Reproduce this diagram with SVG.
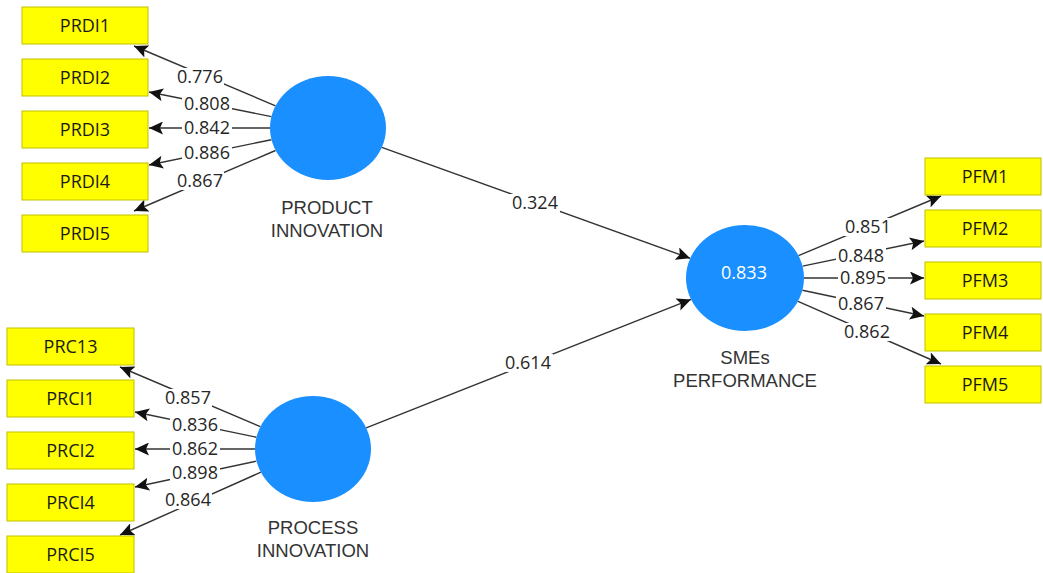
<svg xmlns="http://www.w3.org/2000/svg" width="1043" height="573" viewBox="0 0 1043 573">
<style>
.box{fill:#ffff00;stroke:#c0c000;stroke-width:1}
.bt{font-family:"Open Sans","Liberation Sans",sans-serif;font-size:18px;fill:#1a1a1a;text-anchor:middle}
.lv{fill:#1a8fff}
.lt{font-family:"Liberation Sans",Arial,sans-serif;font-size:18.5px;fill:#333;text-anchor:middle}
.ct{font-family:"Open Sans","Liberation Sans",sans-serif;font-size:18px;fill:#ffffff;text-anchor:middle}
.ln{stroke:#333;stroke-width:1.4;fill:none;marker-end:url(#ah)}
.lb{fill:#fff}
.nt{font-family:"Open Sans","Liberation Sans",sans-serif;font-size:18px;fill:#262626;text-anchor:middle}
</style>
<defs>
<marker id="ah" markerWidth="15" markerHeight="13" refX="14" refY="6.5" orient="auto" markerUnits="userSpaceOnUse">
<path d="M0,0 L14,6.5 L0,13 L3,6.5 z" fill="#111"/>
</marker>
</defs>
<rect width="1043" height="573" fill="#ffffff"/>

<g id="connectors">
<line class="ln" x1="275.5" y1="105.8" x2="134" y2="46"/>
<line class="ln" x1="271.4" y1="116.6" x2="149" y2="92"/>
<line class="ln" x1="270" y1="128" x2="149" y2="128"/>
<line class="ln" x1="271.4" y1="139.7" x2="149" y2="165"/>
<line class="ln" x1="275.5" y1="150.5" x2="134" y2="211"/>

<line class="ln" x1="260.4" y1="426.7" x2="120" y2="367"/>
<line class="ln" x1="256.4" y1="437.2" x2="135" y2="412"/>
<line class="ln" x1="255" y1="449" x2="135" y2="449"/>
<line class="ln" x1="256.4" y1="461.1" x2="135" y2="487"/>
<line class="ln" x1="260.9" y1="472.2" x2="120" y2="535"/>

<line class="ln" x1="798.5" y1="255.6" x2="941" y2="196"/>
<line class="ln" x1="802.5" y1="266.1" x2="924" y2="241"/>
<line class="ln" x1="804" y1="278" x2="924" y2="278"/>
<line class="ln" x1="802.4" y1="290.2" x2="924" y2="316"/>
<line class="ln" x1="798" y1="301.3" x2="941" y2="364"/>

<line class="ln" x1="381.8" y1="147.4" x2="690.2" y2="258.3"/>
<line class="ln" x1="366.2" y1="427.9" x2="691" y2="299.4"/>

<g id="edge-labels">
<rect class="lb" x="176" y="68" width="48" height="18"/><text class="nt" x="200" y="83">0.776</text>
<rect class="lb" x="182" y="95" width="50" height="18"/><text class="nt" x="207" y="110">0.808</text>
<rect class="lb" x="182" y="119" width="50" height="18"/><text class="nt" x="207" y="134">0.842</text>
<rect class="lb" x="182" y="144" width="50" height="18"/><text class="nt" x="207" y="159">0.886</text>
<rect class="lb" x="176" y="172" width="48" height="18"/><text class="nt" x="200" y="187">0.867</text>

<rect class="lb" x="164" y="389" width="48" height="18"/><text class="nt" x="188" y="404">0.857</text>
<rect class="lb" x="170" y="416" width="50" height="18"/><text class="nt" x="195" y="431">0.836</text>
<rect class="lb" x="170" y="440" width="50" height="18"/><text class="nt" x="195" y="455">0.862</text>
<rect class="lb" x="170" y="464" width="50" height="18"/><text class="nt" x="195" y="479">0.898</text>
<rect class="lb" x="164" y="491" width="48" height="18"/><text class="nt" x="188" y="506">0.864</text>

<rect class="lb" x="844" y="218" width="48" height="18"/><text class="nt" x="868" y="233">0.851</text>
<rect class="lb" x="836" y="247" width="50" height="18"/><text class="nt" x="861" y="262">0.848</text>
<rect class="lb" x="838" y="269" width="50" height="18"/><text class="nt" x="863" y="284">0.895</text>
<rect class="lb" x="836" y="295" width="50" height="18"/><text class="nt" x="861" y="310">0.867</text>
<rect class="lb" x="843" y="323" width="48" height="18"/><text class="nt" x="867" y="338">0.862</text>

<rect class="lb" x="510" y="194" width="50" height="18"/><text class="nt" x="535" y="209">0.324</text>
<rect class="lb" x="503" y="354" width="50" height="18"/><text class="nt" x="528" y="369">0.614</text>
</g>
</g>

<g id="PRDI1"><rect class="box" x="22" y="7" width="126" height="37"/><text class="bt" x="85" y="32">PRDI1</text></g>
<g id="PRDI2"><rect class="box" x="22" y="59" width="126" height="37"/><text class="bt" x="85" y="84">PRDI2</text></g>
<g id="PRDI3"><rect class="box" x="22" y="111" width="126" height="37"/><text class="bt" x="85" y="136">PRDI3</text></g>
<g id="PRDI4"><rect class="box" x="22" y="163" width="126" height="37"/><text class="bt" x="85" y="188">PRDI4</text></g>
<g id="PRDI5"><rect class="box" x="22" y="215" width="126" height="37"/><text class="bt" x="85" y="240">PRDI5</text></g>

<g id="PRC13"><rect class="box" x="7" y="328" width="127" height="37"/><text class="bt" x="70.5" y="353">PRC13</text></g>
<g id="PRCI1"><rect class="box" x="7" y="380" width="127" height="37"/><text class="bt" x="70.5" y="405">PRCI1</text></g>
<g id="PRCI2"><rect class="box" x="7" y="432" width="127" height="37"/><text class="bt" x="70.5" y="457">PRCI2</text></g>
<g id="PRCI4"><rect class="box" x="7" y="484" width="127" height="37"/><text class="bt" x="70.5" y="509">PRCI4</text></g>
<g id="PRCI5"><rect class="box" x="7" y="536" width="127" height="37"/><text class="bt" x="70.5" y="561">PRCI5</text></g>

<g id="PFM1"><rect class="box" x="925" y="158" width="116" height="37"/><text class="bt" x="985" y="183">PFM1</text></g>
<g id="PFM2"><rect class="box" x="925" y="210" width="116" height="37"/><text class="bt" x="985" y="235">PFM2</text></g>
<g id="PFM3"><rect class="box" x="925" y="262" width="116" height="37"/><text class="bt" x="985" y="287">PFM3</text></g>
<g id="PFM4"><rect class="box" x="925" y="314" width="116" height="37"/><text class="bt" x="985" y="339">PFM4</text></g>
<g id="PFM5"><rect class="box" x="925" y="366" width="116" height="37"/><text class="bt" x="985" y="391">PFM5</text></g>

<g id="PRODUCT_INNOVATION">
<ellipse class="lv" cx="328" cy="128" rx="58" ry="52"/>
<text class="lt" x="327" y="214">PRODUCT</text>
<text class="lt" x="327" y="237">INNOVATION</text>
</g>
<g id="PROCESS_INNOVATION">
<ellipse class="lv" cx="313" cy="449" rx="58" ry="53"/>
<text class="lt" x="313" y="534">PROCESS</text>
<text class="lt" x="313" y="557">INNOVATION</text>
</g>
<g id="SMEs_PERFORMANCE">
<ellipse class="lv" cx="745" cy="278" rx="59" ry="53"/>
<text class="ct" x="744" y="279">0.833</text>
<text class="lt" x="745" y="364">SMEs</text>
<text class="lt" x="745" y="387">PERFORMANCE</text>
</g>
</svg>
